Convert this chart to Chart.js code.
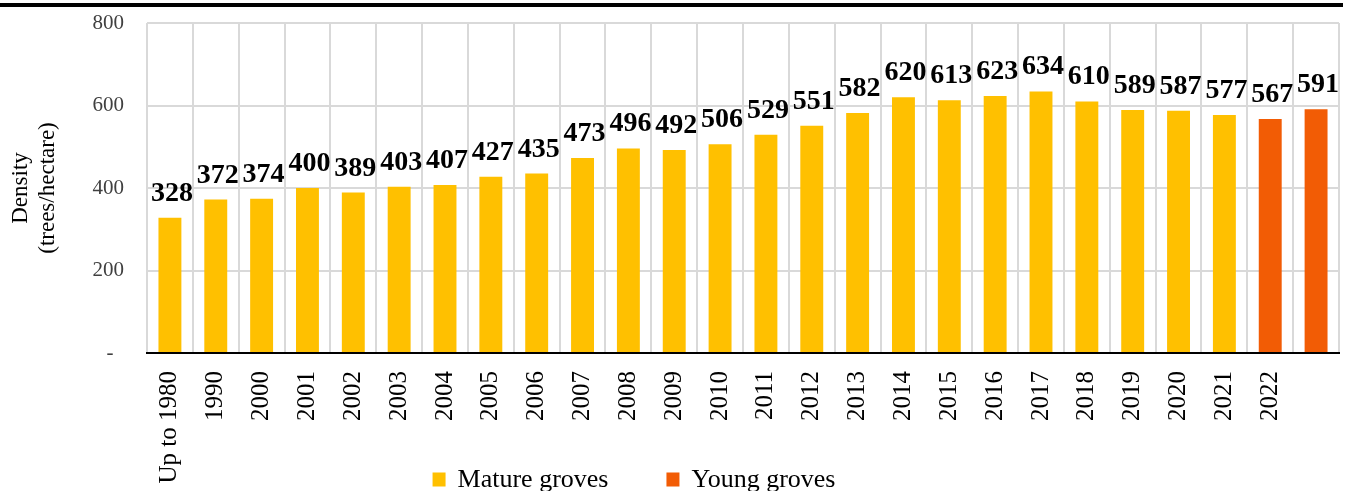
<!DOCTYPE html>
<html>
<head>
<meta charset="utf-8">
<script src="https://cdn.jsdelivr.net/npm/chart.js@4/dist/chart.umd.min.js"></script>
<style>
  html, body { margin: 0; padding: 0; background: #fff; }
  #wrap { position: relative; width: 1346px; height: 491px; }
  #topRule { position: absolute; left: 0; top: 3px; width: 1343px; height: 4px; background: #000; }
</style>
</head>
<body>
<div id="wrap">
  <canvas id="mainChart" width="1346" height="491"></canvas>
  <div id="topRule"></div>
</div>
<script>
// Categories along the x axis (last bar has no label in the original)
var years = ['Up to 1980', '1990', '2000', '2001', '2002', '2003', '2004', '2005', '2006',
    '2007', '2008', '2009', '2010', '2011', '2012', '2013', '2014', '2015', '2016',
    '2017', '2018', '2019', '2020', '2021', '2022', ''];

// Densities (trees/hectare)
var matureGroves = [328, 372, 374, 400, 389, 403, 407, 427, 435, 473, 496, 492, 506,
    529, 551, 582, 620, 613, 623, 634, 610, 589, 587, 577, null, null];
var youngGroves = [null, null, null, null, null, null, null, null, null, null, null, null, null,
    null, null, null, null, null, null, null, null, null, null, null, 567, 591];

var yTicks = [0, 200, 400, 600, 800];

var serif = '"Liberation Serif", "Times New Roman", serif';

// Draws the numbers above each bar
var valueLabels = {
    id: 'valueLabels',
    afterDatasetsDraw: function(chart) {
        var ctx = chart.ctx;
        ctx.save();
        ctx.font = 'bold 28px ' + serif;
        ctx.fillStyle = '#000';
        ctx.textAlign = 'center';
        ctx.textBaseline = 'alphabetic';
        chart.data.datasets.forEach(function(ds, i) {
            var meta = chart.getDatasetMeta(i);
            meta.data.forEach(function(bar, j) {
                if (ds.data[j] === null) return;
                ctx.fillText(ds.data[j], bar.x + 2, bar.y - 17);
            });
        });
        ctx.restore();
    }
};

// Legend at the bottom, a bit left of centre like the original
var bottomLegend = {
    id: 'bottomLegend',
    afterDraw: function(chart) {
        var ctx = chart.ctx;
        var box = 13, gap = 12, spacing = 58;
        ctx.save();
        ctx.font = '26px ' + serif;
        var widths = chart.data.datasets.map(function(ds) {
            return box + gap + ctx.measureText(ds.label).width;
        });
        var total = widths.reduce(function(a, b) { return a + b; }, 0) + spacing * (widths.length - 1);
        var x = 634 - total / 2;
        var y = 479;
        ctx.textBaseline = 'middle';
        chart.data.datasets.forEach(function(ds, i) {
            ctx.fillStyle = ds.backgroundColor;
            ctx.fillRect(x, y - box / 2, box, box + 1);
            ctx.fillStyle = '#000';
            ctx.fillText(ds.label, x + box + gap, y + 1);
            x += widths[i] + spacing;
        });
        ctx.restore();
    }
};

var chartContainer = document.getElementById('mainChart');
var chartOptions = {
    type: 'bar',
    data: {
        labels: years,
        datasets: [
            {
                label: 'Mature groves',
                data: matureGroves,
                backgroundColor: '#FFC000',
                barPercentage: 0.5,
                categoryPercentage: 1
            },
            {
                label: 'Young groves',
                data: youngGroves,
                backgroundColor: '#F25C05',
                barPercentage: 0.5,
                categoryPercentage: 1
            }
        ]
    },
    options: {
        responsive: false,
        animation: false,
        devicePixelRatio: 1,
        layout: { padding: { top: 23, right: 7, bottom: 0, left: 0 } },
        plugins: {
            legend: { display: false },
            tooltip: { enabled: false }
        },
        scales: {
            x: {
                stacked: true,
                grid: { color: '#d9d9d9', lineWidth: 2, drawTicks: false, offset: true },
                border: { color: '#000', width: 2 },
                ticks: {
                    font: { family: serif, size: 25 },
                    color: '#000',
                    minRotation: 90,
                    maxRotation: 90,
                    autoSkip: false,
                    padding: 18
                },
                afterFit: function(scale) {
                    scale.height = 138;
                    scale.paddingLeft = 0;
                    scale.paddingRight = 0;
                    scale.paddingTop = 0;
                }
            },
            y: {
                min: 0,
                max: 800,
                afterBuildTicks: function(scale) {
                    scale.ticks = yTicks.map(function(v) { return { value: v }; });
                },
                grid: { color: '#d9d9d9', lineWidth: 2, drawTicks: false },
                border: { display: false },
                ticks: {
                    font: { family: serif, size: 21 },
                    color: '#404040',
                    padding: 23,
                    callback: function(v) { return v === 0 ? '-  ' : v; }
                },
                title: {
                    display: true,
                    text: ['Density', '(trees/hectare)'],
                    font: { family: serif, size: 23 },
                    color: '#000',
                    padding: { top: 7, bottom: 0 }
                },
                afterFit: function(scale) {
                    scale.width = 147;
                    scale.paddingTop = 0;
                    scale.paddingBottom = 0;
                }
            }
        }
    },
    plugins: [valueLabels, bottomLegend]
};
var mainChart = new Chart(chartContainer, chartOptions);
</script>
</body>
</html>
